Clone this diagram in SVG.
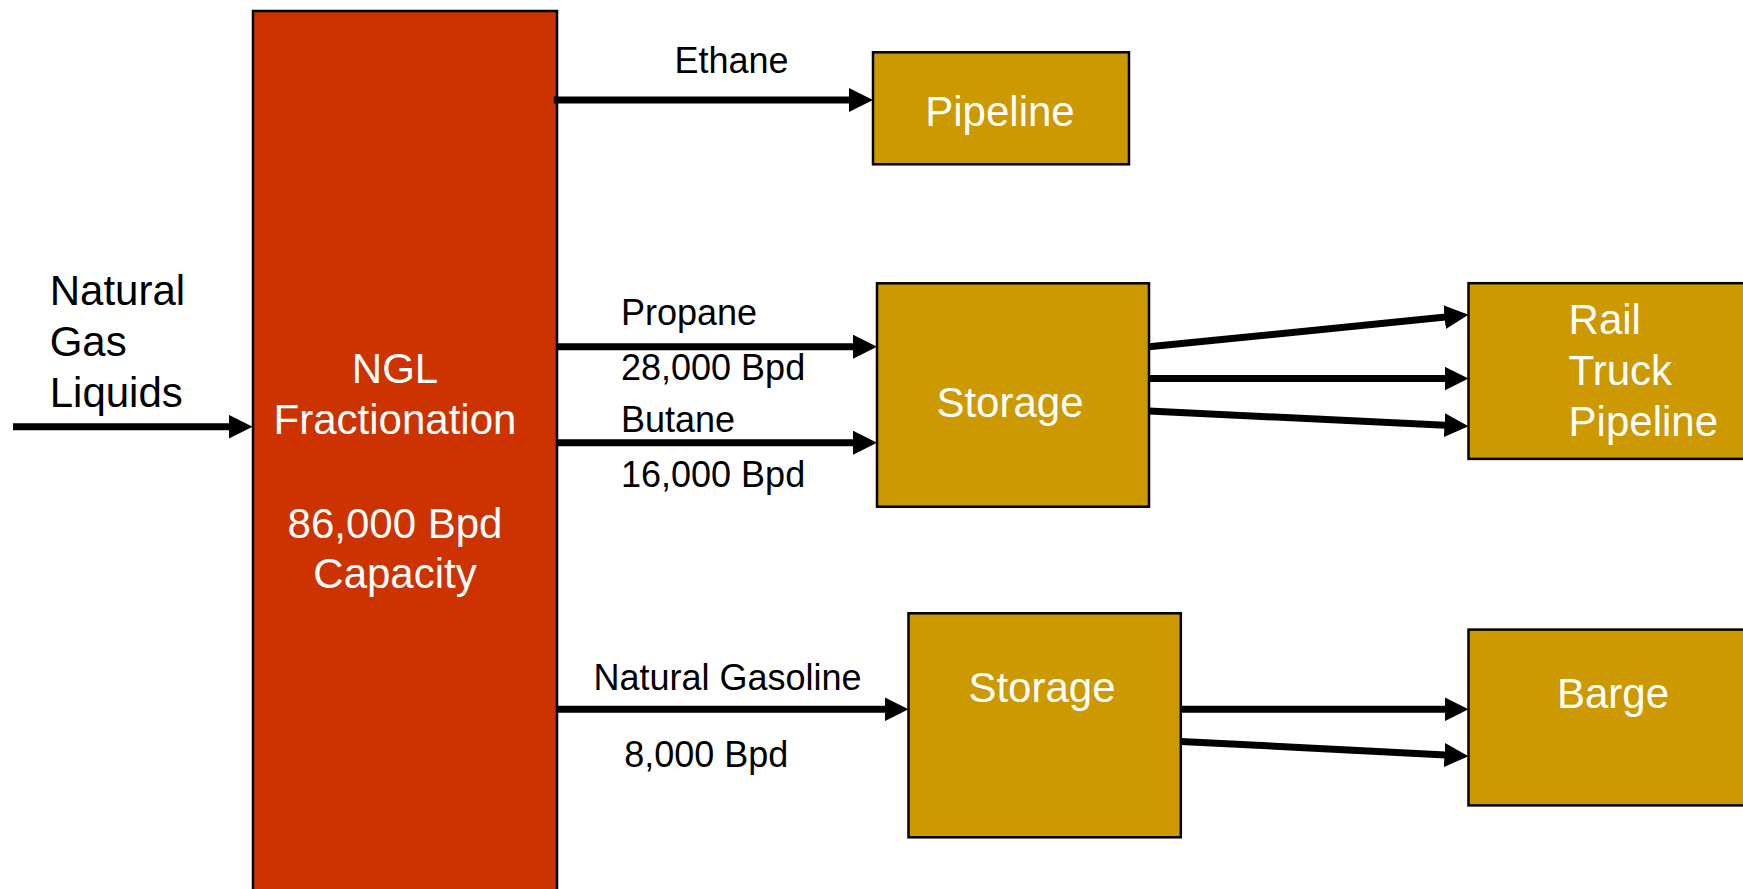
<svg xmlns="http://www.w3.org/2000/svg" width="1743" height="889" viewBox="0 0 1743 889">
<style>
.box{stroke:#000;stroke-width:2.5}
.ngl{fill:#CC3300}
.gold{fill:#CC9900}
.lbl{font-family:"Liberation Sans",Arial,sans-serif;font-size:42px;fill:#fff}
.ext{font-family:"Liberation Sans",Arial,sans-serif;font-size:42px;fill:#000}
.edge{font-family:"Liberation Sans",Arial,sans-serif;font-size:36px;fill:#000}
.c{stroke:#000;stroke-width:7;fill:none;marker-end:url(#ah)}
</style>
<defs>
<marker id="ah" markerUnits="userSpaceOnUse" markerWidth="24" markerHeight="24" refX="1" refY="12" orient="auto">
<path d="M0,0 L24,12 L0,24 z" fill="#000"/>
</marker>
</defs>
<rect width="1743" height="889" fill="#fff"/>
<g id="input-label">
<text class="ext" x="49.7" y="305">Natural</text>
<text class="ext" x="49.7" y="355.7">Gas</text>
<text class="ext" x="49.7" y="406.7">Liquids</text>
</g>
<g id="ngl">
<rect class="box ngl" x="253" y="11" width="304" height="900"/>
<text class="lbl" text-anchor="middle" x="395" y="383.3">NGL</text>
<text class="lbl" text-anchor="middle" x="395" y="434.3">Fractionation</text>
<text class="lbl" text-anchor="middle" x="395" y="537.7">86,000 Bpd</text>
<text class="lbl" text-anchor="middle" x="395" y="588.3">Capacity</text>
</g>
<g id="pipeline">
<rect class="box gold" x="873" y="52.3" width="256" height="112"/>
<text class="lbl" text-anchor="middle" x="1000" y="125.7">Pipeline</text>
</g>
<g id="storage1">
<rect class="box gold" x="877" y="283.3" width="272" height="223.4"/>
<text class="lbl" text-anchor="middle" x="1010" y="416.7">Storage</text>
</g>
<g id="storage2">
<rect class="box gold" x="908.5" y="613.3" width="272.3" height="224"/>
<text class="lbl" text-anchor="middle" x="1042" y="701.7">Storage</text>
</g>
<g id="rail">
<rect class="box gold" x="1468.5" y="283.2" width="300" height="175.7"/>
<text class="lbl" x="1568.6" y="334.3">Rail</text>
<text class="lbl" x="1568.6" y="385">Truck</text>
<text class="lbl" x="1568.6" y="435.7">Pipeline</text>
</g>
<g id="barge">
<rect class="box gold" x="1468.5" y="629.6" width="300" height="175.8"/>
<text class="lbl" text-anchor="middle" x="1613" y="708.2">Barge</text>
</g>
<g id="connectors">
<line class="c" x1="13" y1="426.7" x2="229.6" y2="426.7"/>
<line class="c" x1="553.8" y1="100" x2="850" y2="100"/>
<line class="c" x1="557" y1="346.7" x2="854" y2="346.7"/>
<line class="c" x1="557" y1="442.7" x2="854" y2="442.7"/>
<line class="c" x1="557" y1="709.3" x2="885.5" y2="709.3"/>
<line class="c" x1="1149" y1="346.8" x2="1445.6" y2="317.0"/>
<line class="c" x1="1149" y1="378.6" x2="1445.5" y2="378.6"/>
<line class="c" x1="1149" y1="411" x2="1445.5" y2="425.2"/>
<line class="c" x1="1181" y1="709.3" x2="1445.5" y2="709.3"/>
<line class="c" x1="1181" y1="741.4" x2="1445.5" y2="755.1"/>
</g>
<g id="edge-labels">
<text class="edge" x="674.4" y="72.7">Ethane</text>
<text class="edge" x="621" y="325">Propane</text>
<text class="edge" x="621" y="380">28,000 Bpd</text>
<text class="edge" x="621" y="432.3">Butane</text>
<text class="edge" x="621" y="486.7">16,000 Bpd</text>
<text class="edge" x="593.4" y="690">Natural Gasoline</text>
<text class="edge" x="624.2" y="766.7">8,000 Bpd</text>
</g>
</svg>
